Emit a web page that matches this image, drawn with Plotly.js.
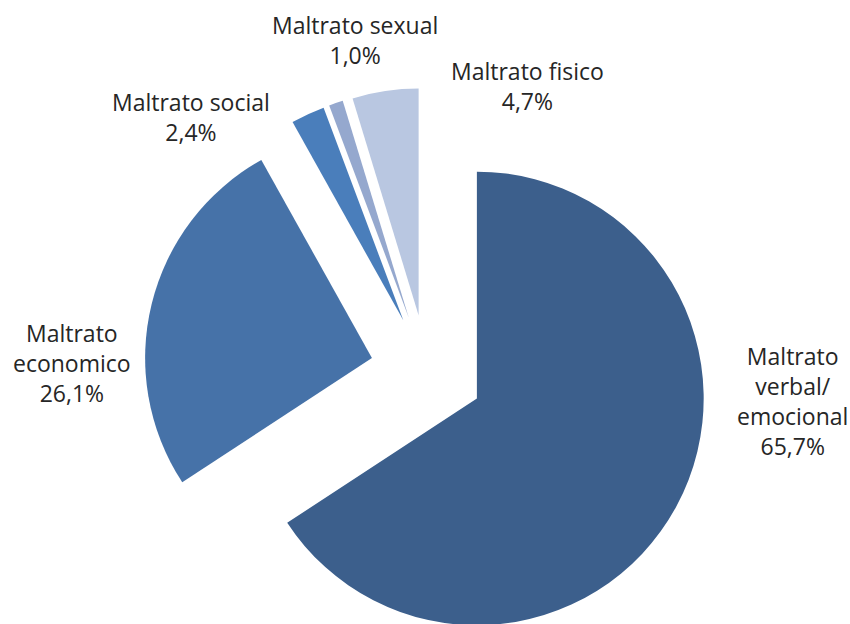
<!DOCTYPE html>
<html>
<head>
<meta charset="utf-8">
<script src="https://cdn.plot.ly/plotly-3.0.1.min.js"></script>
<style>
  html, body { margin: 0; padding: 0; overflow: hidden; background: #ffffff; }
  #chart { width: 850px; height: 700px; }
</style>
</head>
<body>
<div id="chart"></div>
<script>
// ---- data ----
const categories = ['Maltrato verbal/ emocional', 'Maltrato economico', 'Maltrato social', 'Maltrato sexual', 'Maltrato fisico'];
const values = [65.7, 26.1, 2.4, 1.0, 4.7];
const labelLines = [
  ['Maltrato', 'verbal/', 'emocional'],
  ['Maltrato', 'economico'],
  ['Maltrato social'],
  ['Maltrato sexual'],
  ['Maltrato fisico']
];
const colors = ['#3c5f8c', '#4672a8', '#4a7ebb', '#95a8ce', '#b9c7e1'];
// label centres (pixels in the window)
const labelPos = [[792, 401], [72, 363], [191, 117], [355, 40], [527, 86]];

// ---- layout ----
const W = 850, H = 700;
const M = { l: 143, r: 139, t: 88, b: 45, pad: 0 };
const pw = W - M.l - M.r, ph = H - M.t - M.b;
const toPaperX = px => (px - M.l) / pw;
const toPaperY = py => 1 - (py - M.t) / ph;

const fmt = v => v.toFixed(1).replace('.', ',') + '%';

const annotations = categories.map((c, i) => ({
  xref: 'paper', yref: 'paper',
  x: toPaperX(labelPos[i][0]), y: toPaperY(labelPos[i][1]),
  xanchor: 'center', yanchor: 'middle', align: 'center',
  showarrow: false,
  text: labelLines[i].join('<br>') + '<br>' + fmt(values[i]),
  font: { family: 'Open Sans, sans-serif', size: 23, color: '#262626' }
}));

const trace = {
  type: 'pie',
  labels: categories,
  values: values,
  sort: false,
  direction: 'clockwise',
  rotation: 0,
  pull: values.map(() => 0.25),
  marker: { colors: colors, line: { width: 0 } },
  textinfo: 'none',
  hoverinfo: 'label+percent',
  showlegend: false
};

const layout = {
  width: W, height: H,
  margin: M,
  paper_bgcolor: '#ffffff',
  plot_bgcolor: '#ffffff',
  showlegend: false,
  annotations: annotations
};

Plotly.newPlot('chart', [trace], layout, { displayModeBar: false, staticPlot: true });
</script>
</body>
</html>
